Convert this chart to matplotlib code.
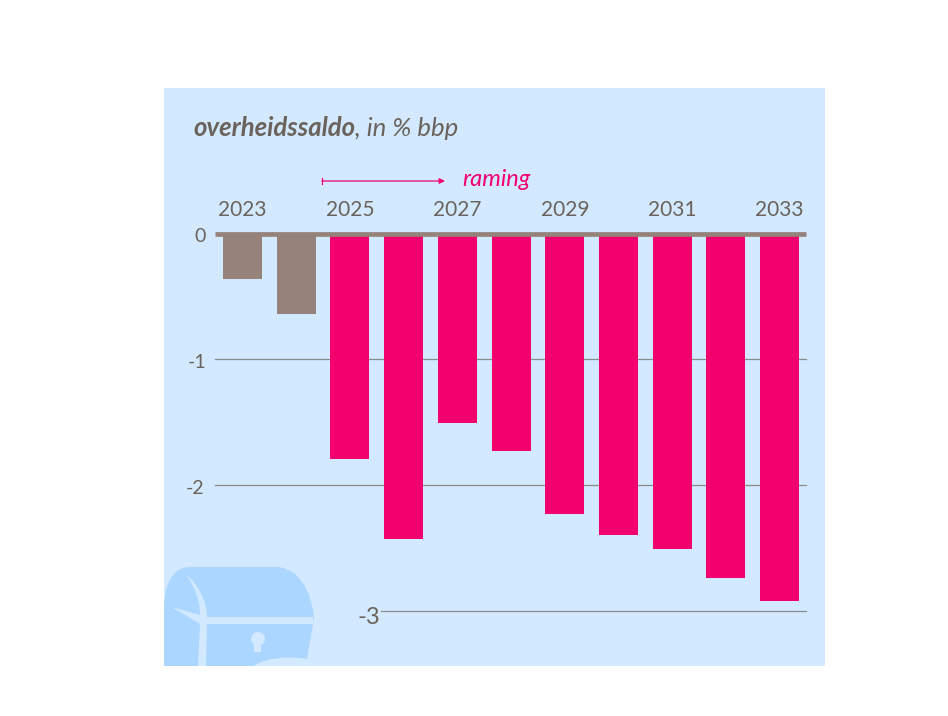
import matplotlib
matplotlib.use('Agg')
import matplotlib.pyplot as plt
from matplotlib.patches import PathPatch, Rectangle, Circle, Polygon
from matplotlib.path import Path
from matplotlib.transforms import Affine2D

W, H = 948, 716

years = [2023, 2024, 2025, 2026, 2027, 2028, 2029, 2030, 2031, 2032, 2033]
saldo = [-0.36, -0.64, -1.79, -2.43, -1.51, -1.73, -2.23, -2.40, -2.51, -2.74, -2.92]
year_labels = [2023, 2025, 2027, 2029, 2031, 2033]
grid_vals = [-1, -2, -3]

BG = '#d2e9ff'
CHEST = '#abd6ff'
GREY = '#94827b'
PINK = '#f2006c'
TEXT = '#6b625c'


def fx(x):
    return x / W


def fy(y):
    return 1 - y / H


fig = plt.figure(figsize=(W / 100, H / 100), dpi=100, facecolor='white')
to_fig = Affine2D().scale(1 / W, -1 / H).translate(0, 1) + fig.transFigure

# panel
fig.patches.append(Rectangle((164, 88), 661, 578, transform=to_fig,
                             facecolor=BG, edgecolor='none', zorder=0))

# treasure chest in the corner
chest = Path([(164, 666), (164, 610), (164, 585), (172, 567), (190, 567),
              (275, 567), (298, 567), (311, 590), (314, 617),
              (313, 624), (307, 659),
              (290, 656), (268, 657), (253, 666), (164, 666)],
             [Path.MOVETO, Path.LINETO, Path.CURVE4, Path.CURVE4, Path.CURVE4,
              Path.LINETO, Path.CURVE4, Path.CURVE4, Path.CURVE4,
              Path.LINETO, Path.LINETO,
              Path.CURVE4, Path.CURVE4, Path.CURVE4, Path.CLOSEPOLY])
fig.patches.append(PathPatch(chest, transform=to_fig, facecolor=CHEST, edgecolor='none', zorder=1))
band = Path([(186, 574), (197, 584), (207, 600), (207, 617), (313, 617), (313, 624), (207, 624),
             (206, 666), (198, 666), (200, 624), (172, 607), (200, 615), (200, 600), (195, 588), (186, 574)],
            [Path.MOVETO, Path.CURVE4, Path.CURVE4, Path.CURVE4, Path.LINETO, Path.LINETO, Path.LINETO,
             Path.LINETO, Path.LINETO, Path.LINETO, Path.LINETO, Path.LINETO,
             Path.CURVE4, Path.CURVE4, Path.CURVE4])
fig.patches.append(PathPatch(band, transform=to_fig, facecolor=BG, edgecolor='none', zorder=2))
fig.patches.append(Circle((258, 639), 7, transform=to_fig, facecolor=BG, edgecolor='none', zorder=2))
fig.patches.append(Polygon([(254.5, 641), (261.5, 641), (261.5, 652), (254.5, 652)], closed=True,
                           transform=to_fig, facecolor=BG, edgecolor='none', zorder=2))

# axes spans x pixels 215-806 and y pixels 233.6-610.8 (value 0 to -3)
ax = fig.add_axes([fx(215), fy(610.8), fx(591), (610.8 - 233.6) / H], zorder=5)
ax.patch.set_alpha(0)
for s in ax.spines.values():
    s.set_visible(False)
ax.set_xlim(2022.49, 2033.49)
ax.set_ylim(-3, 0)
ax.set_xticks([])
ax.set_yticks([])

colors = [GREY, GREY] + [PINK] * 9
ax.bar(years, saldo, width=0.726, color=colors, zorder=2, clip_on=False)

ax.axhline(0, color=GREY, lw=3.4, zorder=3, solid_capstyle='butt', clip_on=False)
for v in grid_vals:
    start = 0.281 if v == -3 else 0
    ax.plot([start, 1], [v, v], transform=ax.get_yaxis_transform(), color='#8a8a8a', lw=0.9,
            zorder=1, clip_on=False)

for y in year_labels:
    ax.annotate(str(y), (y, 0), xytext=(0, 10), textcoords='offset points', ha='center', va='bottom',
                fontsize=15, family='Lato', color=TEXT, annotation_clip=False)

# y labels
fig.text(fx(200), fy(236), '0', ha='center', va='center', fontsize=14, family='Lato', color=TEXT, zorder=6)
fig.text(fx(197), fy(362), '-1', ha='center', va='center', fontsize=14, family='Lato', color=TEXT, zorder=6)
fig.text(fx(195), fy(488), '-2', ha='center', va='center', fontsize=14, family='Lato', color=TEXT, zorder=6)
fig.text(fx(369), fy(617), '-3', ha='center', va='center', fontsize=17, family='Lato', color=TEXT, zorder=6)

# title
t = fig.text(fx(193), fy(128), 'overheidssaldo', ha='left', va='center', fontsize=18.5, family='Lato',
             style='italic', weight='bold', color=TEXT, zorder=6)
fig.canvas.draw()
bb = t.get_window_extent()
fig.text(bb.x1 / W, fy(128), ', in % bbp', ha='left', va='center', fontsize=18.5, family='Lato',
         style='italic', color=TEXT, zorder=6)

# raming arrow
fig.add_artist(plt.Line2D([322, 322], [178, 184], transform=to_fig, color=PINK, lw=0.9))
ax.annotate('', xy=(445, 181), xytext=(322, 181), xycoords=to_fig, textcoords=to_fig,
            annotation_clip=False,
            arrowprops=dict(arrowstyle='-|>', color=PINK, lw=0.9, mutation_scale=8,
                            shrinkA=0, shrinkB=0))
fig.text(fx(462), fy(179), 'raming', ha='left', va='center', fontsize=17, family='Lato',
         style='italic', color=PINK, zorder=6)

fig.savefig('out.png', dpi=100)
